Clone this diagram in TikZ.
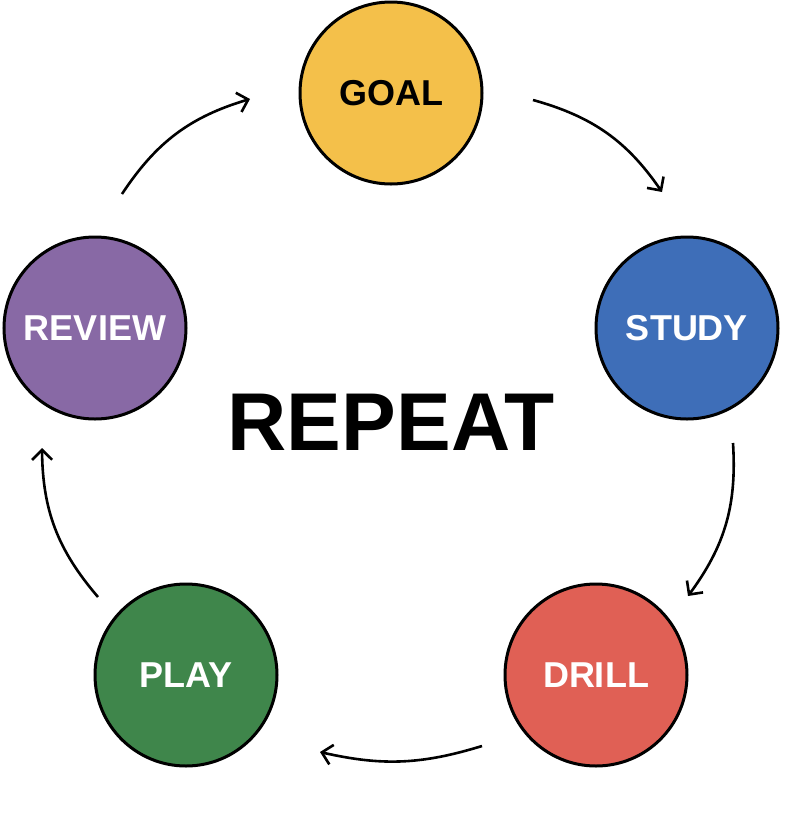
\documentclass[tikz,border=0pt]{standalone}
\usepackage{fontspec}
\setmainfont{Liberation Sans}
\usetikzlibrary{arrows.meta}
\begin{document}
\begin{tikzpicture}[x=1pt,y=-1pt,
 st/.style={circle,draw=black,line width=3pt,minimum size=182pt,inner sep=0pt,font=\bfseries\fontsize{36}{36}\selectfont},
 ar/.style={line width=2.6pt,-{Straight Barb[length=10pt,width=20pt,line width=2.6pt]}}]
\useasboundingbox (0,0) rectangle (794,831);
\definecolor{cg}{HTML}{F4C04A}\definecolor{cs}{HTML}{3E6EB8}
\definecolor{cd}{HTML}{E06055}\definecolor{cp}{HTML}{3F864B}\definecolor{cr}{HTML}{8869A5}
\node[st,fill=cg,text=black] (goal) at (391,93) {GOAL};
\node[st,fill=cs,text=white] (study) at (687,328) {STUDY};
\node[st,fill=cd,text=white] (drill) at (596,675) {DRILL};
\node[st,fill=cp,text=white] (play) at (186,675) {PLAY};
\node[st,fill=cr,text=white] (review) at (95,328) {REVIEW};
\node[font=\bfseries\fontsize{82}{82}\selectfont] (rep) at (391,422) {REPEAT};
\coordinate (a1) at (533,100); \coordinate (b1) at (662,192);
\coordinate (a2) at (733,443); \coordinate (b2) at (688,596);
\coordinate (a3) at (482,746); \coordinate (b3) at (320,752);
\coordinate (a4) at (98,597); \coordinate (b4) at (42,448);
\coordinate (a5) at (122,194); \coordinate (b5) at (250,99);
\draw[ar] (a1) to[bend left=20] (b1);
\draw[ar] (a2) to[bend left=20] (b2);
\draw[ar] (a3) to[bend left=15] (b3);
\draw[ar] (a4) to[bend left=20] (b4);
\draw[ar] (a5) to[bend left=20] (b5);
\end{tikzpicture}
\end{document}
